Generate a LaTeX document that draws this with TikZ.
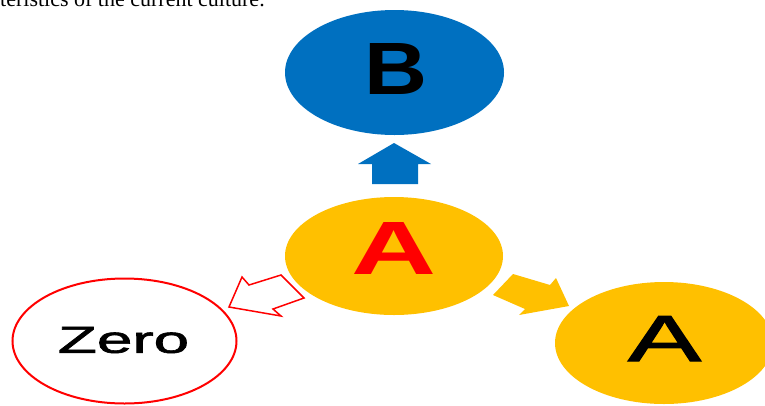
\documentclass[tikz,border=0pt]{standalone}
\usepackage{fontspec}
\usepackage{graphicx}
\usetikzlibrary{shapes.geometric}
\newfontfamily\arialfont{Liberation Sans}
\newfontfamily\arialsemi[FakeBold=1.5]{Liberation Sans}
\newfontfamily\seriffont{Liberation Serif}
\definecolor{myblue}{HTML}{0070C0}
\definecolor{myorange}{HTML}{FFC000}
\definecolor{myred}{HTML}{FF0000}
\tikzset{
  blob/.style={ellipse, inner sep=0pt, outer sep=0pt},
  bigtext/.style={inner sep=0pt, outer sep=0pt, font=\arialfont},
}
\begin{document}
\begin{tikzpicture}[x=1pt, y=-1pt]
\useasboundingbox (0,0) rectangle (765,405);
\clip (0,0) rectangle (765,405);
\fill[white] (0,0) rectangle (765,405);
% cut-off caption line at the top
\node[anchor=base west, inner sep=0pt, font=\seriffont\fontsize{22}{24}\selectfont] (cap) at (0,6) {teristics of the current culture.};
% ellipses
\node[blob, fill=myblue, minimum width=219pt, minimum height=125pt] (B) at (394.5,72.5) {};
\node[blob, fill=myorange, minimum width=218pt, minimum height=118pt] (A) at (394,256) {};
\node[blob, draw=myred, line width=2pt, fill=white, minimum width=224pt, minimum height=125pt] (Zero) at (124.5,341) {};
\node[blob, fill=myorange, minimum width=218pt, minimum height=122pt] (A2) at (664,343) {};
% texts
\node[bigtext] (tB) at (396.5,68.5) {\resizebox{63pt}{51pt}{\bfseries B}};
\node[bigtext, text=myred] (tA) at (394.5,248) {\resizebox{85pt}{52pt}{\bfseries A}};
\node[bigtext] (tZero) at (123.5,340) {\resizebox{131pt}{26pt}{\arialsemi Zero}};
\node[bigtext] (tA2) at (664.5,338.5) {\resizebox{73pt}{45pt}{\arialsemi A}};
% block arrows
\fill[myblue] (394,143) -- (431,164) -- (418,164) -- (418,184) -- (372,184) -- (372,164) -- (358,164) -- cycle;
\draw[myred, line width=1.5pt, fill=white, line join=miter] (229,307) -- (242,277) -- (249,285) -- (281,275) -- (304,298) -- (273,309) -- (281,316) -- cycle;
\fill[myorange] (513,274) -- (550,285) -- (556,278) -- (569,306) -- (519,315) -- (525,309) -- (493,295) -- cycle;
\end{tikzpicture}
\end{document}
